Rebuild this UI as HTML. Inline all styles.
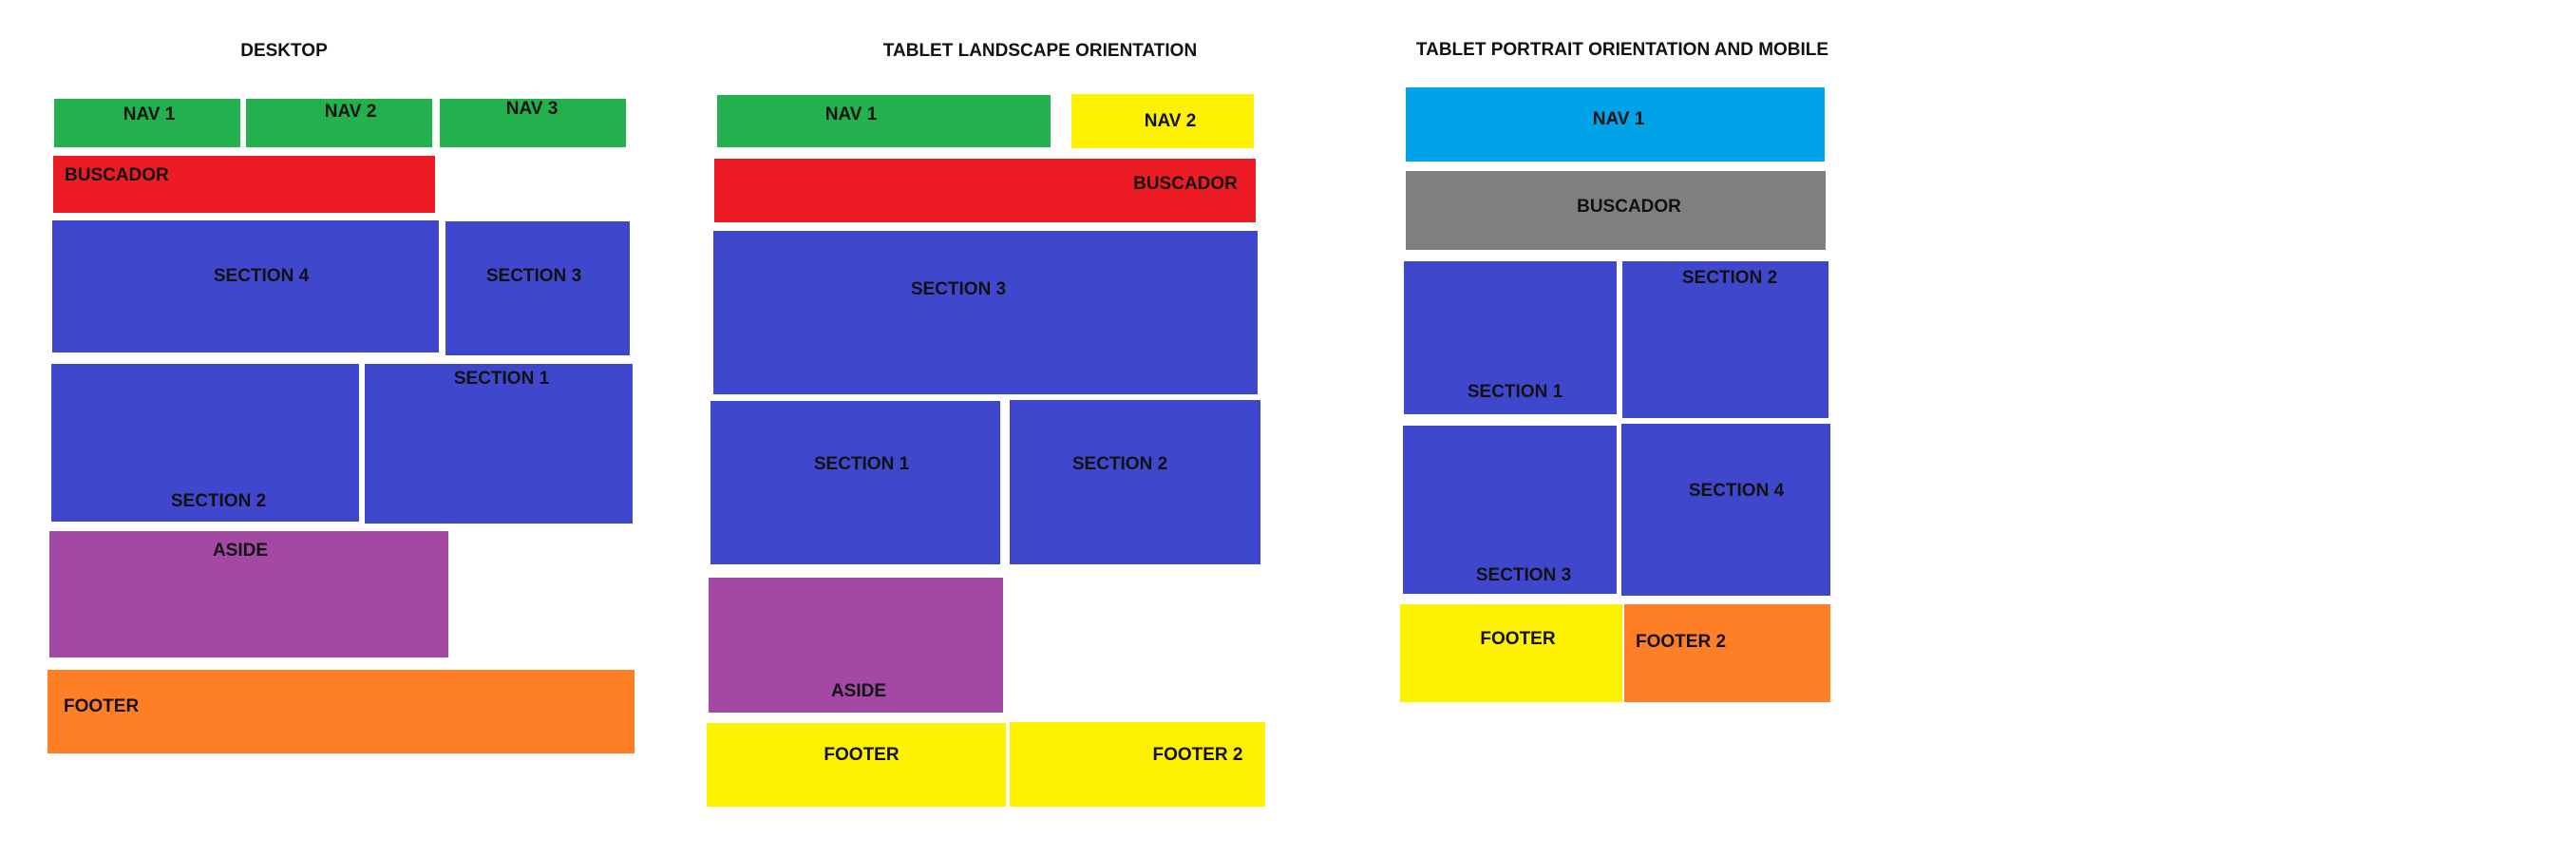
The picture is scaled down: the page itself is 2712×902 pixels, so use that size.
<!DOCTYPE html>
<html><head><meta charset="utf-8">
<style>
html,body{margin:0;padding:0;background:#fff;width:2712px;height:902px;overflow:hidden;position:relative;font-family:"Liberation Sans",sans-serif;}
.b{position:absolute;}
.t{position:absolute;font-weight:bold;font-size:19px;color:#111;white-space:nowrap;transform:translate(-50%,-50%);}
.l{transform:translate(0,-50%);}
.g{background:#22b14c}.r{background:#ed1c24}.bl{background:#3f48cc}.p{background:#a349a4}.o{background:#ff7f27}.y{background:#fff200}.c{background:#00a2e8}.gr{background:#7f7f7f}
</style></head><body>
<!-- Desktop -->
<div class="t" style="left:299px;top:54px">DESKTOP</div>
<div class="b g" style="left:57px;top:104px;width:196px;height:51px"></div>
<div class="b g" style="left:259px;top:104px;width:196px;height:51px"></div>
<div class="b g" style="left:463px;top:104px;width:196px;height:51px"></div>
<div class="b r" style="left:56px;top:164px;width:402px;height:60px"></div>
<div class="b bl" style="left:55px;top:232px;width:407px;height:139px"></div>
<div class="b bl" style="left:469px;top:233px;width:194px;height:141px"></div>
<div class="b bl" style="left:54px;top:383px;width:324px;height:166px"></div>
<div class="b bl" style="left:384px;top:383px;width:282px;height:168px"></div>
<div class="b p" style="left:52px;top:559px;width:420px;height:133px"></div>
<div class="b o" style="left:50px;top:705px;width:618px;height:88px"></div>
<div class="t" style="left:157px;top:121px">NAV 1</div>
<div class="t" style="left:369px;top:118px">NAV 2</div>
<div class="t" style="left:560px;top:115px">NAV 3</div>
<div class="t l" style="left:68px;top:185px">BUSCADOR</div>
<div class="t" style="left:275px;top:291px">SECTION 4</div>
<div class="t" style="left:562px;top:291px">SECTION 3</div>
<div class="t" style="left:230px;top:528px">SECTION 2</div>
<div class="t" style="left:528px;top:399px">SECTION 1</div>
<div class="t" style="left:253px;top:580px">ASIDE</div>
<div class="t l" style="left:67px;top:744px">FOOTER</div>
<!-- Tablet landscape -->
<div class="t" style="left:1095px;top:54px">TABLET LANDSCAPE ORIENTATION</div>
<div class="b g" style="left:755px;top:100px;width:351px;height:55px"></div>
<div class="b y" style="left:1128px;top:99px;width:192px;height:57px"></div>
<div class="b r" style="left:752px;top:167px;width:570px;height:67px"></div>
<div class="b bl" style="left:751px;top:243px;width:573px;height:172px"></div>
<div class="b bl" style="left:748px;top:422px;width:305px;height:172px"></div>
<div class="b bl" style="left:1063px;top:421px;width:264px;height:173px"></div>
<div class="b p" style="left:746px;top:608px;width:310px;height:142px"></div>
<div class="b y" style="left:744px;top:761px;width:315px;height:88px"></div>
<div class="b y" style="left:1063px;top:760px;width:269px;height:89px"></div>
<div class="t" style="left:896px;top:121px">NAV 1</div>
<div class="t" style="left:1232px;top:128px">NAV 2</div>
<div class="t" style="left:1248px;top:194px">BUSCADOR</div>
<div class="t" style="left:1009px;top:305px">SECTION 3</div>
<div class="t" style="left:907px;top:489px">SECTION 1</div>
<div class="t" style="left:1179px;top:489px">SECTION 2</div>
<div class="t" style="left:904px;top:728px">ASIDE</div>
<div class="t" style="left:907px;top:795px">FOOTER</div>
<div class="t" style="left:1261px;top:795px">FOOTER 2</div>
<!-- Tablet portrait -->
<div class="t" style="left:1708px;top:53px">TABLET PORTRAIT ORIENTATION AND MOBILE</div>
<div class="b c" style="left:1480px;top:92px;width:441px;height:78px"></div>
<div class="b gr" style="left:1480px;top:180px;width:442px;height:83px"></div>
<div class="b bl" style="left:1478px;top:275px;width:224px;height:161px"></div>
<div class="b bl" style="left:1708px;top:275px;width:217px;height:165px"></div>
<div class="b bl" style="left:1477px;top:448px;width:225px;height:177px"></div>
<div class="b bl" style="left:1707px;top:446px;width:220px;height:181px"></div>
<div class="b y" style="left:1474px;top:636px;width:234px;height:103px"></div>
<div class="b o" style="left:1710px;top:636px;width:217px;height:103px"></div>
<div class="t" style="left:1704px;top:126px">NAV 1</div>
<div class="t" style="left:1715px;top:218px">BUSCADOR</div>
<div class="t" style="left:1595px;top:413px">SECTION 1</div>
<div class="t" style="left:1821px;top:293px">SECTION 2</div>
<div class="t" style="left:1604px;top:606px">SECTION 3</div>
<div class="t" style="left:1828px;top:517px">SECTION 4</div>
<div class="t" style="left:1598px;top:673px">FOOTER</div>
<div class="t l" style="left:1722px;top:676px">FOOTER 2</div>
</body></html>
